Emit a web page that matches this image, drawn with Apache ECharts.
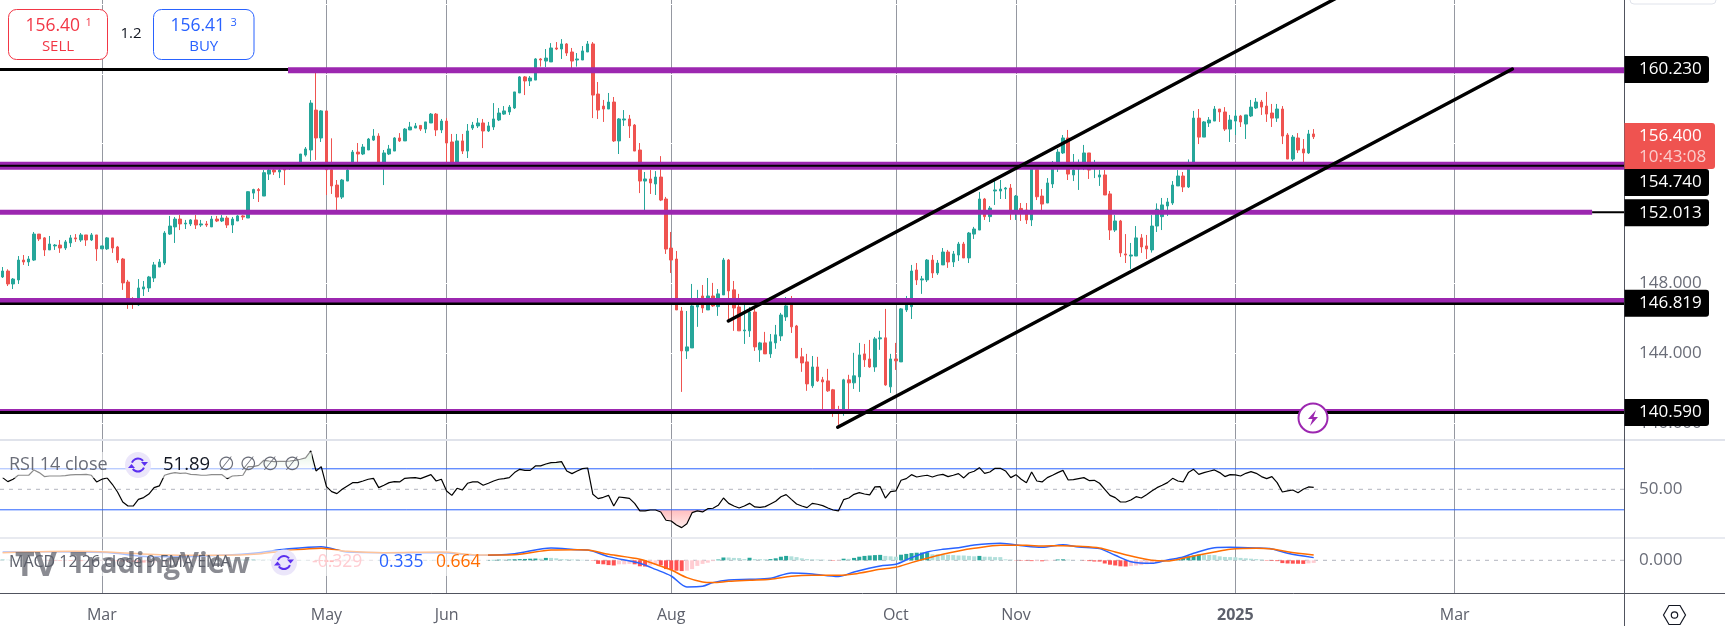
<!DOCTYPE html>
<html>
<head>
<meta charset="utf-8">
<title>USDJPY</title>
<script src="https://cdn.jsdelivr.net/npm/echarts@6/dist/echarts.min.js"></script>
<style>
  html, body { margin: 0; padding: 0; background: #fff; }
  #chart { width: 1725px; height: 626px; }
</style>
</head>
<body>
<div id="chart"></div>
<script>
// bars on the time scale, the rest of the scale is empty future space
var barSlots = 311;
var timeLabels = ['Mar', 'May', 'Jun', 'Aug', 'Oct', 'Nov', '2025', 'Mar'];
var timeLabelBars = [19, 62, 85, 128, 171, 194, 236, 278];
var priceTicks = [140, 144, 148, 152, 156, 160, 164];
// the 164 tick has no label in the picture
var priceLabels = [140, 144, 148, 152, 156, 160];

// open, close, low, high
var candles = [
  [148.36,148.70,148.30,148.93],[148.70,147.96,147.84,148.80],[147.96,148.24,147.67,148.30],[148.19,149.33,147.96,149.56],
  [149.33,149.22,149.05,149.62],[149.22,149.39,148.99,149.56],[149.33,150.82,149.28,150.94],[150.82,150.54,150.42,150.82],
  [150.60,149.91,149.56,150.65],[149.91,150.25,149.91,150.71],[150.14,150.19,149.91,150.25],[150.19,150.02,149.74,150.48],
  [150.02,150.37,149.91,150.48],[150.31,150.60,150.08,150.77],[150.60,150.54,150.37,150.82],[150.48,150.77,150.37,150.88],
  [150.77,150.48,150.14,150.77],[150.48,150.77,150.42,150.88],[150.77,149.97,149.28,150.77],[149.97,150.14,149.97,150.14],
  [149.97,150.60,149.91,150.65],[150.60,150.02,149.74,150.60],[150.08,149.33,149.16,150.14],[149.39,148.02,147.62,149.45],
  [148.07,147.04,146.53,148.19],[147.08,147.00,146.53,147.20],[146.76,147.73,146.70,148.24],[147.67,147.79,147.27,148.13],
  [147.73,148.36,147.50,148.42],[148.30,149.05,148.07,149.22],[148.93,149.22,148.93,149.39],[149.16,150.88,149.05,150.99],
  [150.82,151.28,150.77,151.86],[151.23,151.68,150.31,151.80],[151.68,151.40,151.05,151.91],[151.40,151.45,151.11,151.63],
  [151.40,151.63,151.28,151.68],[151.63,151.34,151.11,151.91],[151.34,151.40,151.23,151.63],[151.40,151.34,151.23,151.57],
  [151.23,151.68,151.23,151.86],[151.68,151.57,151.51,151.86],[151.57,151.74,151.51,151.91],[151.74,151.34,151.17,151.86],
  [151.34,151.68,150.88,151.80],[151.57,151.86,151.57,151.91],[151.86,151.80,151.63,151.91],[151.74,153.25,151.74,153.27],
  [153.17,153.37,152.83,153.42],[153.37,153.31,152.66,153.46],[153.00,154.34,153.00,154.49],[154.26,154.49,153.92,154.68],
  [154.49,154.38,154.21,154.68],[154.38,154.49,154.03,154.72],[154.68,154.49,153.63,154.87],[154.60,154.75,154.50,154.90],
  [154.70,154.80,154.55,154.95],[154.87,155.41,154.87,155.41],[155.35,155.70,155.26,155.81],[155.64,158.33,155.01,158.50],
  [157.93,156.33,155.07,160.30],[156.33,157.88,156.10,157.93],[157.88,154.51,153.06,157.88],[154.51,153.58,153.12,156.31],
  [153.63,152.94,152.20,153.92],[152.94,153.92,152.83,153.98],[153.86,154.49,153.86,154.87],[154.87,155.52,154.87,155.64],
  [155.52,155.41,154.87,156.04],[155.41,155.81,155.35,155.98],[155.64,156.27,155.64,156.33],[156.21,156.44,156.16,156.84],
  [156.44,154.87,154.87,156.60],[154.87,155.47,153.63,155.64],[155.41,155.70,155.35,155.93],[155.58,156.33,155.58,156.38],
  [156.33,156.16,156.10,156.61],[156.16,156.84,156.16,156.90],[156.79,156.96,156.79,157.25],[156.90,157.02,156.90,157.19],
  [157.05,156.84,156.73,157.05],[156.84,157.25,156.61,157.25],[157.19,157.70,157.19,157.76],[157.70,156.79,156.44,157.76],
  [156.79,157.30,156.61,157.42],[157.30,156.04,154.95,157.47],[156.10,154.87,154.87,156.56],[154.87,156.16,154.87,156.56],
  [156.16,155.58,155.41,156.56],[155.58,156.73,155.18,157.13],[156.90,157.07,156.79,157.25],[157.02,157.19,156.90,157.47],
  [157.19,156.73,155.75,157.42],[156.73,157.02,156.67,157.25],[156.96,157.42,156.79,158.33],[157.36,157.76,157.30,158.05],
  [157.70,157.88,157.65,158.16],[157.82,158.10,157.65,158.22],[158.05,158.97,157.99,158.97],[158.91,159.83,158.91,159.88],
  [159.83,159.60,158.79,159.88],[159.60,159.77,159.31,159.88],[159.65,160.86,159.65,160.91],[160.86,160.80,160.42,160.91],
  [160.74,160.91,160.40,161.43],[160.69,161.49,160.69,161.77],[161.49,161.43,161.37,161.83],[161.43,161.72,160.86,162.00],
  [161.72,161.20,161.03,161.77],[161.26,160.74,160.34,161.49],[160.80,160.86,160.42,161.20],[160.80,161.32,160.80,161.60],
  [161.26,161.72,161.26,161.89],[161.72,158.79,157.47,161.83],[158.85,157.93,157.42,159.54],[158.16,157.99,157.25,158.51],
  [157.99,158.39,157.99,158.91],[158.39,156.16,156.10,158.68],[156.16,157.42,155.41,157.47],[157.36,157.42,157.02,157.93],
  [157.42,157.02,156.33,157.65],[157.07,155.58,155.58,157.13],[155.64,153.86,153.17,156.04],[153.86,153.98,152.10,154.38],
  [153.98,153.75,153.12,154.49],[153.69,154.09,153.06,154.43],[154.09,152.77,152.71,155.29],[152.83,149.96,149.68,152.95],
  [150.02,149.33,148.59,150.94],[149.39,146.47,146.47,149.85],[146.41,144.12,141.77,146.64],[144.12,144.35,143.66,146.41],
  [144.29,146.70,144.29,147.96],[146.64,146.76,145.50,147.62],[147.27,146.58,146.30,147.90],[146.47,147.27,146.47,148.30],
  [147.27,146.70,146.64,148.02],[146.66,147.39,146.13,147.67],[147.33,149.33,147.33,149.45],[149.33,147.56,145.90,149.39],
  [147.62,146.58,145.27,148.13],[146.64,145.27,145.27,147.39],[145.27,145.32,144.52,146.76],[145.27,146.35,144.92,146.64],
  [146.35,144.35,144.12,146.64],[144.18,144.58,143.49,144.64],[144.58,143.95,143.95,145.21],[143.95,144.64,143.72,145.09],
  [144.58,145.04,144.24,145.61],[144.98,146.18,144.69,146.30],[146.07,146.70,145.84,147.21],[146.76,145.50,145.15,147.27],
  [145.55,143.72,143.72,145.61],[143.78,143.43,142.92,144.29],[143.49,142.23,141.83,143.95],[142.12,143.20,142.00,143.83],
  [143.20,142.40,142.34,143.78],[142.46,142.34,140.74,142.63],[142.40,141.83,141.77,143.09],[141.89,140.74,140.34,141.94],
  [140.74,140.53,139.88,140.97],[140.74,142.46,140.40,142.52],[142.46,142.29,140.74,142.75],[142.29,142.69,141.94,144.01],
  [142.63,143.89,141.77,144.58],[143.95,143.61,143.20,144.52],[143.66,143.20,143.15,144.75],[143.20,144.81,142.92,144.92],
  [144.81,144.87,144.18,145.27],[144.87,142.17,142.12,146.53],[142.06,143.66,141.71,143.95],[143.66,143.55,143.03,144.58],
  [143.49,146.53,143.49,146.58],[146.47,146.76,146.35,147.27],[146.66,148.70,145.95,149.05],[148.76,148.19,147.90,149.16],
  [148.19,148.25,147.39,148.42],[148.19,149.33,148.07,149.39],[149.33,148.59,148.30,149.62],[148.59,149.16,148.48,149.33],
  [149.05,149.79,149.05,150.02],[149.79,149.22,148.88,149.91],[149.22,149.68,148.93,149.85],[149.62,150.25,149.28,150.37],
  [150.25,149.45,149.45,150.37],[149.45,150.88,149.16,150.94],[150.82,151.11,150.54,151.23],[151.05,152.83,151.05,153.23],
  [152.83,151.82,151.63,152.89],[151.82,152.31,151.51,152.43],[153.29,153.35,152.49,153.86],[153.29,153.40,152.83,153.92],
  [153.40,153.46,152.83,153.52],[153.46,152.01,151.63,153.69],[152.01,153.00,151.63,153.06],[152.29,152.16,151.57,152.60],
  [152.20,151.63,151.40,152.60],[151.63,154.87,151.28,154.87],[154.51,152.96,152.77,154.51],[153.00,152.54,152.20,153.40],
  [152.60,153.75,152.60,154.03],[153.69,154.87,153.46,155.01],[154.87,155.52,154.38,155.70],[155.47,156.33,155.41,156.50],
  [156.33,154.26,153.92,156.79],[154.21,154.49,153.86,155.41],[154.55,154.70,153.35,155.10],[154.87,155.47,154.49,155.93],
  [155.47,154.49,153.98,155.47],[154.60,154.70,154.03,155.07],[154.09,154.21,153.58,154.49],[154.21,153.06,153.06,154.49],
  [153.12,151.05,150.48,153.29],[151.05,151.57,150.94,151.91],[151.57,149.74,149.51,151.63],[149.68,149.62,149.16,150.82],
  [149.56,149.62,148.82,150.31],[149.56,150.60,149.56,151.28],[150.60,150.08,149.74,150.82],[150.14,149.97,149.39,150.77],
  [149.91,151.28,149.76,151.91],[151.28,152.24,150.94,152.58],[151.82,152.49,151.05,152.89],[152.43,152.66,151.86,152.89],
  [152.60,153.63,152.49,153.86],[153.58,154.15,153.58,154.49],[154.15,153.52,153.23,154.38],[153.52,154.87,153.46,155.10],
  [154.87,157.47,154.87,157.88],[157.47,156.38,155.98,157.99],[156.38,157.25,156.38,157.30],[157.19,157.36,156.96,157.53],
  [157.30,157.99,157.30,158.16],[157.99,157.82,157.25,157.99],[157.82,156.84,156.73,158.10],[156.84,157.36,156.10,157.65],
  [157.30,157.59,156.50,157.93],[157.59,157.25,156.96,157.65],[157.13,157.65,156.27,157.65],[157.59,158.10,157.53,158.51],
  [158.05,158.39,157.99,158.62],[158.39,158.10,157.65,158.51],[158.16,157.70,157.25,158.97],[157.76,157.47,156.96,158.28],
  [157.47,157.99,157.25,158.28],[157.99,156.44,155.98,158.16],[156.50,155.12,155.12,156.61],[155.12,156.38,155.01,156.50],
  [156.33,155.64,155.47,156.61],[155.70,155.47,154.95,156.27],[155.47,156.56,155.41,156.79],[156.56,156.40,156.27,156.84]
];

// levels: price, first bar, last bar (fractional bars, 0 is the left edge)
var purpleLevels = [[160.22,55.14,311],[154.74,0,311],[152.07,0,304.8],[147.01,0,311],[140.73,0,311]];
var blackLevels = [[160.25,0,55.14],[154.74,0,311],[152.07,304.8,311],[146.819,0,311],[140.59,0,311]];
// trend lines: [bar, price], [bar, price]
var channelUpper = [[139.44,145.84],[257.1,164.55]];
var channelLower = [[160.37,139.74],[289.54,160.285]];

var rsiValues = [
  61.4,57.5,59.8,63.7,63.7,63.7,68.9,66.3,62.4,63.0,63.0,63.0,63.3,64.0,64.3,64.3,64.6,63.7,57.2,59.8,
  61.1,54.9,47.4,37.6,33.7,33.7,40.2,41.9,45.4,51.6,53.3,63.7,65.3,66.3,65.6,65.9,64.6,64.3,63.7,63.7,
  64.3,64.3,64.3,60.4,63.0,63.3,63.7,72.1,72.1,73.4,78.3,77.6,77.0,77.3,77.3,77.6,78.3,79.3,80.6,87.4,
  67.9,72.1,52.6,47.7,45.8,50.0,53.3,56.5,56.5,58.1,59.8,60.7,51.6,53.9,56.5,57.5,57.2,60.7,61.1,61.4,
  60.4,62.4,64.3,58.1,59.8,48.4,44.1,51.0,49.3,55.9,57.2,57.2,53.9,55.9,58.1,59.8,60.4,61.4,66.3,69.5,
  68.5,68.5,72.8,72.8,74.7,76.0,76.3,77.0,67.9,65.3,
  67.9,70.2,70.8,45.1,40.9,42.2,44.1,33.7,42.5,41.9,41.2,36.3,28.9,28.9,29.8,29.8,27.9,19.8,19.1,15.2,
  12.6,16.5,27.2,28.9,27.9,31.1,31.5,34.4,41.5,36.3,33.7,31.8,33.7,36.3,32.8,32.4,33.1,35.7,38.3,42.8,
  44.8,40.2,35.7,33.7,32.1,36.3,35.4,34.1,31.8,29.8,28.9,39.9,41.5,45.1,46.7,45.4,44.5,52.3,52.6,41.5,
  47.7,48.4,58.8,60.4,64.3,62.0,63.0,63.7,62.0,63.7,64.6,62.4,63.7,65.3,61.1,65.9,67.6,71.1,65.6,66.9,
  70.5,70.5,67.9,61.4,64.3,59.8,56.5,66.9,58.1,57.2,61.4,63.7,66.3,68.5,59.1,59.4,60.4,61.4,58.5,58.8,
  55.9,50.0,44.1,41.9,37.6,37.6,39.6,42.8,41.5,44.8,
  48.4,51.6,53.9,56.5,60.7,58.1,57.2,66.3,69.5,64.6,66.3,67.6,68.9,66.3,62.4,64.3,64.0,63.0,65.6,67.2,
  65.6,62.4,60.4,62.4,56.5,47.4,48.4,49.3,46.7,50.0,52.3,51.89
];
var rsiUpper = 70;
var rsiMiddle = 50;
var rsiLower = 30;

// MACD read at these bars
var macdBars = [0,7,14,21,28,35,42,49,54,61,66,73,84,91,98,105,110,112,116,122,125,128,131,134,136,139,143,147,151,155,160,163,168,171,174,177,180,183,186,191,196,199,203,206,210,213,216,220,223,226,228,232,235,240,243,246,251];
var macdLine = [1.04,1.08,1.04,0.92,0.46,0.46,0.63,0.96,1.38,1.71,1.04,0.96,0.96,0.63,0.83,1.54,1.33,1.29,0.46,-0.38,-1.13,-1.96,-3.33,-3.25,-2.79,-2.46,-2.38,-2.25,-1.58,-1.71,-2.04,-1.46,-0.71,-0.50,0.33,1.04,1.38,1.58,1.92,2.13,1.75,1.63,1.96,1.67,1.46,0.63,-0.17,-0.38,0.04,0.42,0.88,1.58,1.63,1.54,1.42,0.88,0.335];
var signalLine = [0.96,1.08,1.13,1.00,0.75,0.63,0.63,0.79,1.17,1.50,1.13,0.96,1.04,0.67,0.71,1.29,1.33,1.29,0.75,0.13,-0.50,-1.21,-2.17,-2.71,-2.79,-2.63,-2.50,-2.38,-2.00,-1.88,-1.88,-1.71,-1.13,-0.88,-0.29,0.25,0.75,1.17,1.50,1.88,1.88,1.79,1.83,1.75,1.54,1.04,0.54,0.00,-0.08,0.25,0.54,1.04,1.38,1.50,1.42,1.08,0.664];
var macdHist = [
  0.12,0.10,0.08,0.06,0.05,0.04,0.03,0.02,-0.02,-0.05,-0.06,-0.08,-0.08,-0.09,-0.09,-0.10,-0.10,-0.08,-0.08,-0.06,
  -0.06,-0.08,-0.12,-0.15,-0.18,-0.20,-0.25,-0.28,-0.30,-0.28,-0.25,-0.22,-0.20,-0.18,-0.15,-0.12,-0.10,-0.08,-0.05,-0.02,
  0.02,0.03,0.02,0.02,0.03,0.05,0.08,0.10,0.12,0.12,0.10,0.10,0.08,0.06,0.05,0.05,0.04,0.04,0.03,0.02,
  -0.05,-0.10,-0.20,-0.22,-0.20,-0.18,-0.15,-0.12,-0.10,-0.06,
  -0.03,-0.02,0.02,0.03,-0.02,-0.03,-0.02,0.02,0.02,-0.02,-0.03,0.02,0.03,0.02,-0.02,-0.03,-0.03,-0.02,-0.02,0.02,-0.02,-0.03,-0.02,0.03,
  0.05,0.08,0.08,0.10,0.13,0.15,0.17,0.20,0.22,0.20,0.30,0.30,0.25,0.15,0.13,0.10,
  0.10,0.06,0.02,-0.04,-0.45,-0.50,-0.60,-0.65,-0.50,-0.50,-0.45,-0.50,-0.75,-0.78,-0.65,-0.60,-0.62,-1.10,-1.20,-1.30,
  -1.35,-1.30,-1.10,-0.70,-0.45,-0.30,-0.10,0.10,0.35,0.35,0.30,0.28,0.15,0.32,0.15,0.14,0.12,0.15,0.25,0.45,
  0.55,0.50,0.40,0.25,0.15,0.12,0.10,0.08,0.02,-0.05,-0.05,0.20,0.18,0.30,0.45,0.55,0.60,0.65,0.68,0.55,
  0.50,0.45,0.70,0.80,0.90,0.95,0.97,1.00,0.75,0.75,0.70,0.70,0.65,0.60,0.60,0.55,0.50,0.55,0.45,0.45,
  0.40,0.40,0.12,0.08,-0.03,-0.05,-0.06,-0.10,-0.10,-0.12,-0.10,-0.03,0.10,0.12,0.08,0.02,0.01,-0.03,-0.10,-0.15,
  -0.16,-0.40,-0.55,-0.65,-0.75,-0.78,-0.72,-0.65,-0.60,-0.50,
  -0.40,-0.30,-0.20,-0.10,0.10,0.20,0.35,0.50,0.60,0.72,0.70,0.68,0.65,0.50,0.42,0.40,0.38,0.30,0.25,0.20,
  0.15,0.10,-0.05,-0.07,-0.10,-0.35,-0.40,-0.42,-0.43,-0.45,-0.38,-0.329
];

var upColor = '#26a69a';
var downColor = '#ef5350';
var purple = '#9c27b0';
var textFont = '"Open Sans", "Noto Sans", sans-serif';

var categories = [];
for (var i = 0; i < barSlots; i++) {
  var at = timeLabelBars.indexOf(i);
  categories.push(at >= 0 ? timeLabels[at] : '');
}
function isLabelBar(index) {
  return categories[index] !== '';
}

function gridX(gridIndex, withLabels) {
  return {
    type: 'category',
    gridIndex: gridIndex,
    data: categories,
    boundaryGap: true,
    axisLine: { show: false },
    axisTick: { show: false },
    axisLabel: withLabels ? {
      show: true,
      interval: function (index) { return isLabelBar(index); },
      margin: 14,
      fontFamily: textFont,
      fontSize: 16,
      color: '#5d606b',
      formatter: function (v) { return v === '2025' ? '{b|2025}' : v; },
      rich: { b: { fontFamily: textFont, fontSize: 16, fontWeight: 'bold', color: '#5d606b' } }
    } : { show: false },
    splitLine: {
      show: true,
      alignWithLabel: true,
      interval: function (index) { return isLabelBar(index); },
      lineStyle: { color: '#9598a1', width: 1 }
    }
  };
}

// same width as the category axis, lets level lines run from edge to edge
function overlayX(gridIndex) {
  return {
    type: 'value',
    gridIndex: gridIndex,
    min: 0,
    max: barSlots,
    show: false,
    splitLine: { show: false }
  };
}

function levelSeries(level, color, width, z) {
  return {
    type: 'line',
    xAxisIndex: 1,
    yAxisIndex: 0,
    data: [[level[1], level[0]], [level[2], level[0]]],
    symbol: 'none',
    silent: true,
    z: z,
    lineStyle: { color: color, width: width, cap: 'butt' }
  };
}

function bandSeries(value, color, dashed) {
  return {
    type: 'line',
    xAxisIndex: 3,
    yAxisIndex: 1,
    data: [[0, value], [barSlots, value]],
    symbol: 'none',
    silent: true,
    z: 2,
    lineStyle: { color: color, width: 1, type: dashed ? [4, 5] : 'solid' }
  };
}

function trendSeries(points) {
  return {
    type: 'line',
    xAxisIndex: 1,
    yAxisIndex: 0,
    data: points,
    symbol: 'none',
    silent: true,
    z: 6,
    lineStyle: { color: '#000', width: 3.4, cap: 'round' }
  };
}

function rsiFill(values, origin, topColor, bottomColor) {
  return {
    type: 'line',
    xAxisIndex: 2,
    yAxisIndex: 1,
    data: values,
    symbol: 'none',
    silent: true,
    z: 2,
    lineStyle: { width: 0, opacity: 0 },
    areaStyle: {
      origin: origin,
      opacity: 1,
      color: new echarts.graphic.LinearGradient(0, 0, 0, 1, [
        { offset: 0, color: topColor },
        { offset: 1, color: bottomColor }
      ])
    }
  };
}

var purpleWidths = [6, 8, 5, 5, 2];
var blackWidths = [3, 2, 2, 2.5, 3];
var series = [{
  type: 'candlestick',
  xAxisIndex: 0,
  yAxisIndex: 0,
  data: candles,
  barWidth: 3,
  z: 2,
  itemStyle: {
    color: upColor,
    color0: downColor,
    borderColor: upColor,
    borderColor0: downColor,
    borderWidth: 1
  }
}];
purpleLevels.forEach(function (level, i) {
  series.push(levelSeries(level, purple, purpleWidths[i], 4));
});
blackLevels.forEach(function (level, i) {
  series.push(levelSeries(level, '#000', blackWidths[i], 5));
});
series.push(trendSeries(channelUpper));
series.push(trendSeries(channelLower));

series.push(bandSeries(rsiUpper, '#2962ff', false));
series.push(bandSeries(rsiLower, '#2962ff', false));
series.push(bandSeries(rsiMiddle, '#b2b5be', true));
series.push(rsiFill(rsiValues.map(function (v) { return Math.max(v, rsiUpper); }), rsiUpper, 'rgba(76,175,80,0.35)', 'rgba(76,175,80,0)'));
series.push(rsiFill(rsiValues.map(function (v) { return Math.min(v, rsiLower); }), rsiLower, 'rgba(255,82,82,0.38)', 'rgba(255,82,82,0.1)'));
series.push({
  type: 'line',
  xAxisIndex: 2,
  yAxisIndex: 1,
  data: rsiValues,
  symbol: 'none',
  silent: true,
  z: 3,
  lineStyle: { color: '#000', width: 1.2 }
});

series.push({
  type: 'line',
  xAxisIndex: 5,
  yAxisIndex: 2,
  data: [[0, 0], [barSlots, 0]],
  symbol: 'none',
  silent: true,
  z: 1,
  lineStyle: { color: '#b2b5be', width: 1, type: [4, 5] }
});
series.push({
  type: 'bar',
  xAxisIndex: 4,
  yAxisIndex: 2,
  data: macdHist,
  barWidth: 4,
  silent: true,
  z: 2,
  itemStyle: {
    color: function (p) {
      var prev = p.dataIndex > 0 ? macdHist[p.dataIndex - 1] : 0;
      if (p.value >= 0) return p.value > prev ? '#26a69a' : '#b2dfdb';
      return p.value < prev ? '#ff5252' : '#ffcdd2';
    }
  }
});
series.push({
  type: 'line',
  xAxisIndex: 4,
  yAxisIndex: 2,
  data: macdBars.map(function (b, i) { return [b, macdLine[i]]; }),
  symbol: 'none',
  smooth: 0.3,
  silent: true,
  z: 3,
  lineStyle: { color: '#2962ff', width: 1.5 }
});
series.push({
  type: 'line',
  xAxisIndex: 4,
  yAxisIndex: 2,
  data: macdBars.map(function (b, i) { return [b, signalLine[i]]; }),
  symbol: 'none',
  smooth: 0.3,
  silent: true,
  z: 4,
  lineStyle: { color: '#ff6d00', width: 1.5 }
});

function yLabels(values, digits) {
  return {
    customValues: values,
    margin: 14.5,
    fontFamily: textFont,
    fontSize: 17,
    color: '#6a6d78',
    formatter: function (v) { return v.toFixed(digits); }
  };
}

// page furniture, not chart marks
var axisX = 1624.5;
var topZ = 100;
var g = [];
function text(x, y, str, color, size, weight, align, z) {
  g.push({
    type: 'text', x: x, y: y, z: z || topZ,
    style: {
      text: str, fill: color, fontSize: size, fontWeight: weight || 'normal',
      fontFamily: textFont, align: align || 'left', verticalAlign: 'middle'
    }
  });
}
function hline(y, color, width) {
  g.push({ type: 'line', z: topZ - 5, shape: { x1: 0, y1: y, x2: 1725, y2: y }, style: { stroke: color, lineWidth: width } });
}
function tag(y, height, color, right) {
  g.push({
    type: 'rect', z: topZ, shape: { x: axisX, y: y, width: right - axisX, height: height, r: [0, 3, 3, 0] },
    style: { fill: color }
  });
}
function priceTag(y, label) {
  tag(y - 13.5, 27, '#000', 1709);
  text(1639, y, label, '#fff', 17, 'normal', 'left', topZ + 1);
}
function box(x, width, color, price, small, label) {
  g.push({
    type: 'rect', z: topZ, shape: { x: x, y: 9.5, width: width, height: 50, r: 8 },
    style: { fill: '#fff', stroke: color, lineWidth: 1 }
  });
  text(x + 17, 26, price, color, 17.5, 'normal', 'left', topZ + 1);
  text(x + 77, 23, small, color, 11, 'normal', 'left', topZ + 1);
  text(x + width / 2, 46.5, label, color, 15, 'normal', 'center', topZ + 1);
}
function syncIcon(cx, cy) {
  var violet = '#5b2ff0';
  g.push({ type: 'circle', z: topZ, shape: { cx: cx, cy: cy, r: 13 }, style: { fill: '#ebe6fa' } });
  g.push({ type: 'arc', z: topZ + 1, shape: { cx: cx, cy: cy, r: 6.5, startAngle: 3.5, endAngle: 5.6 }, style: { stroke: violet, lineWidth: 2, fill: 'none' } });
  g.push({ type: 'arc', z: topZ + 1, shape: { cx: cx, cy: cy, r: 6.5, startAngle: 0.4, endAngle: 2.5 }, style: { stroke: violet, lineWidth: 2, fill: 'none' } });
  g.push({ type: 'polygon', z: topZ + 1, shape: { points: [[cx + 3, cy - 3], [cx + 10, cy - 3], [cx + 6.5, cy + 1]] }, style: { fill: violet } });
  g.push({ type: 'polygon', z: topZ + 1, shape: { points: [[cx - 10, cy + 3], [cx - 3, cy + 3], [cx - 6.5, cy - 1]] }, style: { fill: violet } });
}

hline(440, '#e0e3eb', 2);
hline(538, '#e0e3eb', 1.5);
hline(593.5, '#50535e', 1);
g.push({ type: 'line', z: topZ - 4, shape: { x1: axisX, y1: 0, x2: axisX, y2: 626 }, style: { stroke: '#50535e', lineWidth: 1 } });
g.push({ type: 'rect', z: topZ - 4, shape: { x: 1630, y: -8, width: 86, height: 12, r: 4 }, style: { fill: '#fff', stroke: '#e0e3eb', lineWidth: 1 } });

box(8.5, 99, '#f23645', '156.40', '1', 'SELL');
box(153.5, 100.5, '#2962ff', '156.41', '3', 'BUY');
text(131, 34, '1.2', '#131722', 15, 'normal', 'center');

priceTag(69.5, '160.230');
priceTag(182.6, '154.740');
priceTag(212.7, '152.013');
priceTag(303.3, '146.819');
priceTag(412.5, '140.590');
tag(123, 46, '#ef5350', 1715);
text(1639, 136.5, '156.400', '#fff', 17, 'normal', 'left', topZ + 1);
text(1639, 157, '10:43:08', 'rgba(255,255,255,0.7)', 17, 'normal', 'left', topZ + 1);

// alert circle on the last bar
g.push({ type: 'circle', z: topZ, shape: { cx: 1313, cy: 418, r: 14.5 }, style: { fill: '#fff', stroke: purple, lineWidth: 2 } });
g.push({ type: 'polygon', z: topZ + 1, shape: { points: [[1316, 410], [1308, 419], [1312.5, 419], [1310, 426], [1318, 417], [1313.5, 417]] }, style: { fill: purple } });

// settings hexagon
g.push({ type: 'polygon', z: topZ, shape: { points: [[1663.5, 615], [1669, 605.5], [1680, 605.5], [1685.5, 615], [1680, 624.5], [1669, 624.5]] }, style: { fill: '#fff', stroke: '#131722', lineWidth: 1.2 } });
g.push({ type: 'circle', z: topZ, shape: { cx: 1674.5, cy: 615, r: 3.2 }, style: { fill: '#fff', stroke: '#131722', lineWidth: 1.2 } });

// pane legends sit on a translucent strip
g.push({ type: 'rect', z: topZ - 3, shape: { x: 0, y: 452, width: 312, height: 26 }, style: { fill: 'rgba(255,255,255,0.55)' } });
g.push({ type: 'rect', z: topZ - 3, shape: { x: 0, y: 550, width: 488, height: 26 }, style: { fill: 'rgba(255,255,255,0.6)' } });

text(9, 465, 'RSI 14 close', '#6a6d78', 18);
syncIcon(138, 465);
text(163, 465, '51.89', '#131722', 18.5);
['∅', '∅', '∅', '∅'].forEach(function (s, i) {
  text(226.5 + 22 * i, 465, s, '#6a6d78', 19, 'normal', 'center');
});

text(15, 566, 'TV', 'rgba(88,90,100,0.7)', 34, 'bold', 'left', topZ - 1);
text(70, 565, 'TradingView', 'rgba(88,90,100,0.7)', 29, 'bold', 'left', topZ - 1);
text(9, 562.5, 'MACD 12 26 close 9 EMA EMA', '#5d606b', 16);
syncIcon(284, 562.5);
text(312, 562.5, '-0.329', '#ffcdd2', 17.5);
text(379, 562.5, '0.335', '#2962ff', 17.5);
text(436, 562.5, '0.664', '#ff6d00', 17.5);

var chart = echarts.init(document.getElementById('chart'));
chart.setOption({
  animation: false,
  backgroundColor: '#fff',
  tooltip: { show: false },
  grid: [
    { left: 0, width: axisX, top: 0, height: 440, outerBoundsMode: 'none' },
    { left: 0, width: axisX, top: 440, height: 98, outerBoundsMode: 'none' },
    { left: 0, width: axisX, top: 538, height: 55, outerBoundsMode: 'none' }
  ],
  xAxis: [gridX(0, false), overlayX(0), gridX(1, false), overlayX(1), gridX(2, true), overlayX(2)],
  yAxis: [
    {
      type: 'value', gridIndex: 0, position: 'right', min: 139.012, max: 164.241, z: 1,
      axisLine: { show: false },
      axisTick: { show: false, customValues: priceTicks },
      axisLabel: yLabels(priceLabels, 3),
      splitLine: { show: true, lineStyle: { color: '#fff', width: 1 } }
    },
    {
      type: 'value', gridIndex: 1, position: 'right', min: 2.5, max: 98.1,
      axisLine: { show: false },
      axisTick: { show: false, customValues: [rsiMiddle] },
      axisLabel: yLabels([rsiMiddle], 2),
      splitLine: { show: false }
    },
    {
      type: 'value', gridIndex: 2, position: 'right', min: -4.09, max: 2.79,
      axisLine: { show: false },
      axisTick: { show: false, customValues: [0] },
      axisLabel: yLabels([0], 3),
      splitLine: { show: false }
    }
  ],
  series: series,
  graphic: { elements: g }
});
</script>
</body>
</html>
